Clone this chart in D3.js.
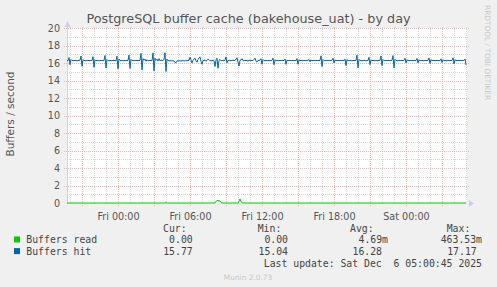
<!DOCTYPE html>
<html lang="en">
<head>
<meta charset="UTF-8">
<title>PostgreSQL buffer cache</title>
<script src="https://cdnjs.cloudflare.com/ajax/libs/d3/7.8.5/d3.min.js"></script>
<style>
  body { margin: 0; background: #f0f0f0; }
  svg { display: block; }
</style>
</head>
<body>
<svg id="chart" width="497" height="287"></svg>
<script>
// 5 minute samples, first one Thu 4 Dec 2025 19:45 (utc used for labels)
const startTime = Date.UTC(2025, 11, 4, 19, 45);
const stepMs = 5 * 60 * 1000;

// buffers hit / second, one row per hour
const buffersHit = [
  16.30,16.25,16.62,15.80,16.40,16.28,16.30,16.26,16.31,16.27,16.25,16.30,
  16.28,16.32,16.80,15.62,16.35,16.30,16.27,16.25,16.29,16.31,16.26,16.28,
  16.30,16.27,16.72,15.50,16.38,16.25,16.30,16.28,16.24,16.30,16.27,16.29,
  16.26,16.30,16.86,15.42,16.40,16.28,16.25,16.30,16.27,16.26,16.31,16.28,
  16.29,16.25,16.78,15.32,16.45,16.30,16.26,16.28,16.30,16.25,16.29,16.27,
  16.30,16.28,16.90,15.38,16.42,16.27,16.30,16.25,16.28,16.31,16.26,16.30,
  16.27,16.30,17.10,15.22,16.50,16.32,16.45,16.20,16.38,16.25,16.30,16.28,
  16.30,16.26,17.15,15.10,16.55,16.30,16.42,16.22,16.50,16.25,16.35,16.28,
  16.30,16.40,17.17,15.04,16.45,16.28,16.25,16.27,16.24,16.26,16.25,16.23,
  16.05,16.03,16.22,16.25,16.24,16.26,16.23,16.25,16.27,16.24,16.26,16.25,
  16.26,16.28,16.30,16.65,16.35,16.00,16.30,16.45,16.55,16.25,16.10,16.40,
  16.55,16.70,16.20,15.85,16.30,16.28,16.35,16.20,16.30,16.45,16.38,16.25,
  16.30,16.22,16.35,16.25,15.60,16.35,16.55,15.40,16.30,16.40,16.25,16.28,
  16.30,16.25,16.35,16.70,16.00,16.30,16.28,16.25,16.30,16.27,16.35,16.25,
  16.30,16.45,16.60,16.10,15.65,16.30,16.35,16.50,16.28,16.25,16.30,16.27,
  16.30,16.20,16.35,16.28,16.25,16.30,16.27,16.40,16.55,16.20,16.10,16.30,
  16.28,16.35,16.50,15.85,16.40,16.28,16.25,16.30,16.27,16.26,16.30,16.28,
  16.26,16.30,16.55,15.80,16.35,16.28,16.30,16.25,16.28,16.30,16.26,16.29,
  16.27,16.30,16.45,15.85,16.32,16.26,16.30,16.28,16.25,16.30,16.27,16.28,
  16.30,16.26,16.50,15.85,16.35,16.28,16.30,16.25,16.29,16.27,16.30,16.26,
  16.28,16.30,16.40,16.15,16.35,16.25,16.30,16.27,16.28,16.30,16.26,16.29,
  16.27,16.30,16.82,15.60,16.40,16.28,16.25,16.30,16.27,16.29,16.30,16.26,
  16.28,16.30,16.55,16.00,16.35,16.27,16.30,16.26,16.28,16.30,16.25,16.29,
  16.30,16.27,16.45,15.70,16.38,16.28,16.26,16.30,16.28,16.25,16.30,16.27,
  16.29,16.30,16.90,15.45,16.42,16.28,16.30,16.25,16.28,16.30,16.27,16.26,
  16.30,16.28,16.65,15.80,16.35,16.27,16.30,16.28,16.25,16.30,16.26,16.29,
  16.27,16.30,16.80,15.70,16.40,16.28,16.26,16.30,16.27,16.29,16.30,16.25,
  16.28,16.30,16.85,15.45,16.42,16.30,16.27,16.25,16.30,16.28,16.26,16.30,
  16.27,16.29,16.55,16.00,16.35,16.28,16.30,16.26,16.28,16.30,16.25,16.29,
  16.30,16.27,16.52,16.00,16.36,16.28,16.26,16.30,16.28,16.25,16.30,16.27,
  16.29,16.30,16.58,15.95,16.38,16.27,16.30,16.28,16.26,16.30,16.27,16.28,
  16.30,16.26,16.48,16.05,16.35,16.28,16.30,16.27,16.25,16.30,16.28,16.26,
  16.28,16.30,16.60,15.90,16.38,16.27,16.30,16.26,16.28,16.30,16.27,16.29,
  16.30,16.28,16.45,15.77
];

// buffers read / second: zero except these [sample index, value] entries
const buffersReadNonZero = [
  [99, 0.05],
  [149, 0.15], [150, 0.30], [151, 0.28], [152, 0.25], [153, 0.22], [154, 0.05],
  [172, 0.20], [173, 0.46], [174, 0.15], [175, 0.05]
];

const xTickTimes = [
  Date.UTC(2025, 11, 5, 0), Date.UTC(2025, 11, 5, 6), Date.UTC(2025, 11, 5, 12),
  Date.UTC(2025, 11, 5, 18), Date.UTC(2025, 11, 6, 0)
];
const yTicks = [0, 2, 4, 6, 8, 10, 12, 14, 16, 18, 20];

const seriesNames = ['Buffers read', 'Buffers hit'];
const seriesColors = ['#00cc00', '#0066b3'];
const statCur = ['0.00', '15.77'];
const statMin = ['0.00', '15.04'];
const statAvg = ['4.69m', '16.28'];
const statMax = ['463.53m', '17.17'];

const buffersRead = buffersHit.map(() => 0);
buffersReadNonZero.forEach(([i, v]) => { buffersRead[i] = v; });

const svg = d3.select('#chart');
const pL = 67, pR = 467, pT = 28, pB = 203;
const endTime = startTime + 400 * stepMs;

const x = d3.scaleUtc().domain([startTime, endTime]).range([pL, pR]);
const y = d3.scaleLinear().domain([0, 20]).range([pB, pT]);

svg.append('rect').attr('width', 497).attr('height', 287).attr('fill', '#f0f0f0');
svg.append('rect').attr('x', pL).attr('y', pT)
  .attr('width', pR - pL).attr('height', pB - pT).attr('fill', '#fff');

// grid
const minorY = d3.range(1, 21, 2);
const hours = d3.utcHour.range(new Date(startTime), new Date(endTime));
const grid = svg.append('g').attr('shape-rendering', 'crispEdges').attr('stroke-width', 1);
grid.selectAll('.hminor').data(minorY).join('line')
  .attr('x1', pL - 2).attr('x2', pR + 2)
  .attr('y1', d => Math.round(y(d)) + 0.5).attr('y2', d => Math.round(y(d)) + 0.5)
  .attr('stroke', '#d8d8d8').attr('stroke-dasharray', '1,1');
grid.selectAll('.vminor').data(hours.filter(d => d.getUTCHours() % 3 !== 0)).join('line')
  .attr('y1', pT - 1).attr('y2', pB + 2)
  .attr('x1', d => Math.round(x(d)) + 0.5).attr('x2', d => Math.round(x(d)) + 0.5)
  .attr('stroke', '#d8d8d8').attr('stroke-dasharray', '1,1');
grid.selectAll('.hmajor').data(yTicks.slice(1)).join('line')
  .attr('x1', pL - 3).attr('x2', pR + 2)
  .attr('y1', d => Math.round(y(d)) + 0.5).attr('y2', d => Math.round(y(d)) + 0.5)
  .attr('stroke', '#ebbcbc').attr('stroke-dasharray', '1,1');
grid.selectAll('.vmajor').data(hours.filter(d => d.getUTCHours() % 3 === 0)).join('line')
  .attr('y1', pT - 1).attr('y2', pB + 3)
  .attr('x1', d => Math.round(x(d)) + 0.5).attr('x2', d => Math.round(x(d)) + 0.5)
  .attr('stroke', '#ebbcbc').attr('stroke-dasharray', '1,1');

// axes
const fmt = d3.utcFormat('%a %H:%M');
const xAxis = svg.append('g').attr('transform', `translate(0,${pB})`)
  .call(d3.axisBottom(x).tickValues(xTickTimes).tickFormat(fmt).tickSize(0).tickPadding(10));
const yAxis = svg.append('g').attr('transform', `translate(${pL - 1},0)`)
  .call(d3.axisLeft(y).tickValues(yTicks).tickFormat(d3.format('d')).tickSize(0).tickPadding(6));
[xAxis, yAxis].forEach(a => {
  a.select('.domain').remove();
  a.selectAll('text').attr('fill', '#555').style('font-family', 'DejaVu Sans').style('font-size', '9.6px');
});
yAxis.selectAll('text').attr('dy', '0.36em');

svg.append('line').attr('x1', pL + 0.5).attr('x2', pL + 0.5).attr('y1', pB).attr('y2', pT - 5)
  .attr('stroke', '#cfd3f0');
svg.append('path').attr('d', `M${pL - 2.5},${pT - 1}L${pL + 0.5},${pT - 7}L${pL + 3.5},${pT - 1}Z`)
  .attr('fill', '#ccccff');
svg.append('path').attr('d', `M${pR + 2},${pB - 3}L${pR + 7},${pB + 0.5}L${pR + 2},${pB + 4}Z`)
  .attr('fill', '#ccccff');

// series
const line = d3.line().x((d, i) => x(startTime + i * stepMs)).y(d => y(d));
svg.append('path').datum(buffersRead).attr('d', line)
  .attr('fill', 'none').attr('stroke', seriesColors[0]).attr('stroke-width', 1);
svg.append('path').datum(buffersHit).attr('d', line)
  .attr('fill', 'none').attr('stroke', seriesColors[1]).attr('stroke-width', 1);

// title & labels
svg.append('text').attr('x', 248.5).attr('y', 23).attr('text-anchor', 'middle')
  .attr('fill', '#555').style('font-family', 'DejaVu Sans').style('font-size', '12.8px')
  .text('PostgreSQL buffer cache (bakehouse_uat) - by day');
svg.append('text').attr('transform', 'translate(14,114) rotate(-90)').attr('text-anchor', 'middle')
  .attr('fill', '#555').style('font-family', 'DejaVu Sans').style('font-size', '10.5px')
  .text('Buffers / second');
svg.append('text').attr('transform', 'translate(485,5) rotate(90)')
  .attr('fill', '#c8c8c8').style('font-family', 'DejaVu Sans').style('font-size', '7.4px')
  .text('RRDTOOL / TOBI OETIKER');

// legend
const mono = s => s.attr('fill', '#444').style('font-family', 'DejaVu Sans Mono').style('font-size', '9.8px');
const heads = [['Cur:', 163], ['Min:', 257.7], ['Avg:', 350], ['Max:', 446.7]];
heads.forEach(([t, hx]) => svg.append('text').attr('x', hx).attr('y', 231.5).call(mono).text(t));
const cols = [[statCur, 192.7, 192.7], [statMin, 288, 288], [statAvg, 388, 382], [statMax, 482, 476.7]];
seriesNames.forEach((name, i) => {
  const by = 243 + i * 11.6;
  svg.append('rect').attr('x', 14).attr('y', by - 6.5).attr('width', 6).attr('height', 6)
    .attr('fill', seriesColors[i]);
  svg.append('text').attr('x', 26.3).attr('y', by).call(mono).text(name);
  cols.forEach(([vals, endA, endB]) => {
    const v = vals[i];
    const ex = /[a-zA-Z]$/.test(v) ? endA : (vals.some(s => /[a-zA-Z]$/.test(s)) ? endB : endA);
    svg.append('text').attr('x', ex).attr('y', by).attr('text-anchor', 'end').call(mono).text(v);
  });
});
svg.append('text').attr('x', 482).attr('y', 266.8).attr('text-anchor', 'end').call(mono)
  .attr('xml:space', 'preserve').style('white-space', 'pre')
  .text('Last update: Sat Dec  6 05:00:45 2025');
svg.append('text').attr('x', 248).attr('y', 279.5).attr('text-anchor', 'middle')
  .attr('fill', '#c8c8c8').style('font-family', 'DejaVu Sans').style('font-size', '7.4px')
  .text('Munin 2.0.73');
</script>
</body>
</html>
